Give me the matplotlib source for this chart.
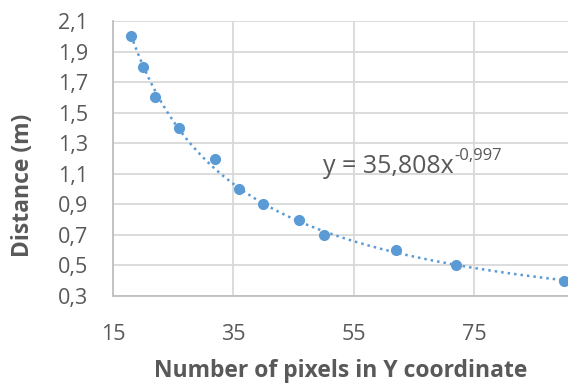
import numpy as np
import matplotlib
matplotlib.use("Agg")
import matplotlib.pyplot as plt

x_pixels = [18, 20, 22, 26, 32, 36, 40, 46, 50, 62, 72, 90]
distance = [2.0, 1.8, 1.6, 1.4, 1.2, 1.0, 0.9, 0.8, 0.7, 0.6, 0.5, 0.4]
coef_a = 35.808
coef_b = -0.997
x_ticks = [15, 35, 55, 75]
x_tick_labels = ["15", "35", "55", "75"]
y_ticks = [0.3, 0.5, 0.7, 0.9, 1.1, 1.3, 1.5, 1.7, 1.9, 2.1]
y_tick_labels = ["0,3", "0,5", "0,7", "0,9", "1,1", "1,3", "1,5", "1,7", "1,9", "2,1"]

plt.rcParams['font.family'] = ['Open Sans', 'DejaVu Sans']
txt = '#595959'
blue = '#5b9bd5'
W, H = 568, 387

fig = plt.figure(figsize=(W/100, H/100), dpi=100)
ax = fig.add_axes([113/W, 1-296/H, 1-113/W+0.002, (296-21)/H])

xt = np.linspace(min(x_pixels), max(x_pixels), 300)
ax.plot(xt, coef_a * xt ** coef_b, linestyle=(0, (1, 1.6)), color=blue, lw=1.8, zorder=2)
ax.plot(x_pixels, distance, 'o', color=blue, ms=7, zorder=3)

ax.set_xlim(15, 15 + (W - 113) / 6)
ax.set_ylim(0.3, 2.1)
ax.set_xticks(x_ticks)
ax.set_xticklabels(x_tick_labels)
ax.set_yticks(y_ticks)
ax.set_yticklabels(y_tick_labels)
ax.grid(True, color='#d9d9d9', lw=1.3)
ax.set_axisbelow(True)
for s in ['top', 'right']:
    ax.spines[s].set_visible(False)
for s in ['left', 'bottom']:
    ax.spines[s].set_color('#bfbfbf')
    ax.spines[s].set_linewidth(1.3)
ax.tick_params(length=0, labelsize=15.5, colors=txt)
ax.tick_params(axis='y', pad=18)
ax.tick_params(axis='x', pad=20)

fig.text(341/W, 1-371/H, 'Number of pixels in Y coordinate', fontsize=16.5, fontweight='bold',
         color=txt, ha='center', va='center')
fig.text(23/W, 1-185/H, 'Distance (m)', fontsize=16.5, fontweight='bold', color=txt,
         ha='center', va='center', rotation=90)

main = fig.text(323/W, 1-173/H, 'y = 35,808x', fontsize=18, color=txt, ha='left', va='baseline')
fig.canvas.draw()
bb = main.get_window_extent(renderer=fig.canvas.get_renderer())
fig.text(bb.x1/W + 0.001, 1-160/H, '-0,997', fontsize=12, color=txt, ha='left', va='baseline')

fig.savefig('out.png', dpi=100)
